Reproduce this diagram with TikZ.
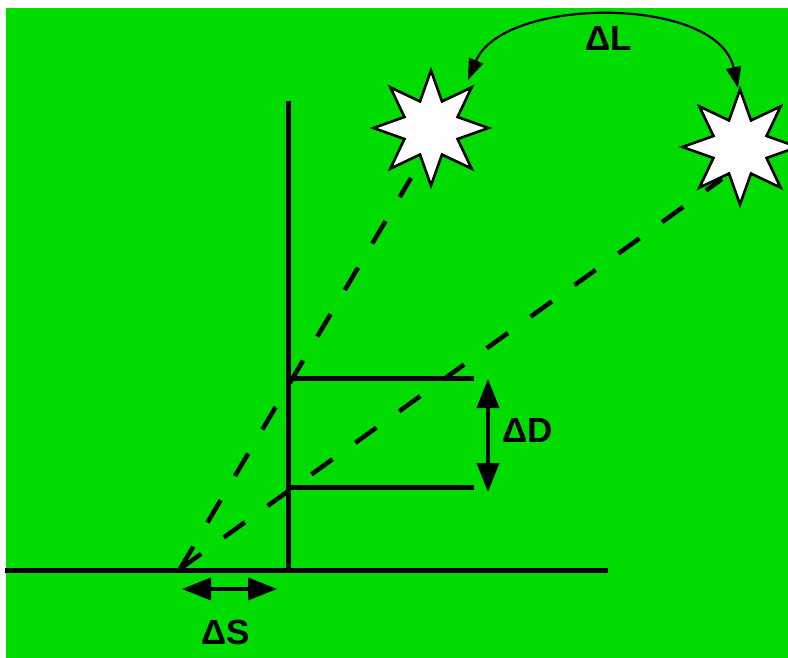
\documentclass[tikz,border=0pt]{standalone}
\usepackage{fontspec}
\setmainfont{Liberation Sans}
\usetikzlibrary{shapes.geometric,arrows.meta}
\definecolor{bggreen}{RGB}{0,220,0}
\tikzset{
  mainline/.style={line width=5pt},
  sightline/.style={line width=4.5pt, dash pattern=on 26pt off 28pt},
  sparkle/.style={star, star points=8, star point ratio=2.0, minimum size=115pt, inner sep=0pt, draw=black, fill=white, line width=2.6pt},
  dimarrow/.style={line width=3.6pt, {Triangle[length=29pt,width=22pt]}-{Triangle[length=29pt,width=22pt]}},
  shiftarrow/.style={line width=2.2pt, {Triangle[length=21pt,width=15pt]}-{Triangle[length=21pt,width=15pt]}},
  lbl/.style={font=\fontsize{35}{40}\selectfont\bfseries, inner sep=0pt}
}
\begin{document}
\begin{tikzpicture}[x=1pt,y=-1pt]
\useasboundingbox (0,0) rectangle (788,658);
\fill[white] (0,0) rectangle (788,658);
\fill[bggreen] (6,8) rectangle (788,658);
% stars
\node[sparkle] (star1) at (431,128) {};
\node[sparkle] (star2) at (740,147) {};
% coordinates
\coordinate (eye) at (180,569);
\coordinate (s1end) at (411,178);
\coordinate (s2end) at (722,179);
\coordinate (groundL) at (5,570);
\coordinate (groundR) at (608,570);
\coordinate (poleT) at (288,101);
\coordinate (poleB) at (288,570);
\coordinate (h1L) at (288,378);
\coordinate (h1R) at (474,378);
\coordinate (h2L) at (288,487);
\coordinate (h2R) at (474,487);
\coordinate (dT) at (488,379);
\coordinate (dB) at (488,492);
\coordinate (sL) at (182,589);
\coordinate (sR) at (277,589);
\coordinate (lA) at (468,80);
\coordinate (lB) at (738,88);
% main lines
\draw[mainline] (groundL) -- (groundR);
\draw[mainline] (poleT) -- (poleB);
\draw[mainline] (h1L) -- (h1R);
\draw[mainline] (h2L) -- (h2R);
% sight lines
\draw[sightline] (eye) -- (s1end);
\draw[sightline] (eye) -- (s2end);
% dimension arrows
\draw[dimarrow] (dT) -- (dB);
\draw[dimarrow] (sL) -- (sR);
\draw[shiftarrow] (lA) .. controls (503,-4) and (718,-5) .. (lB);
% labels
\node[lbl] (tL) at (609,38) {ΔL};
\node[lbl] (tD) at (528,430) {ΔD};
\node[lbl] (tS) at (226,632) {ΔS};
\end{tikzpicture}
\end{document}
